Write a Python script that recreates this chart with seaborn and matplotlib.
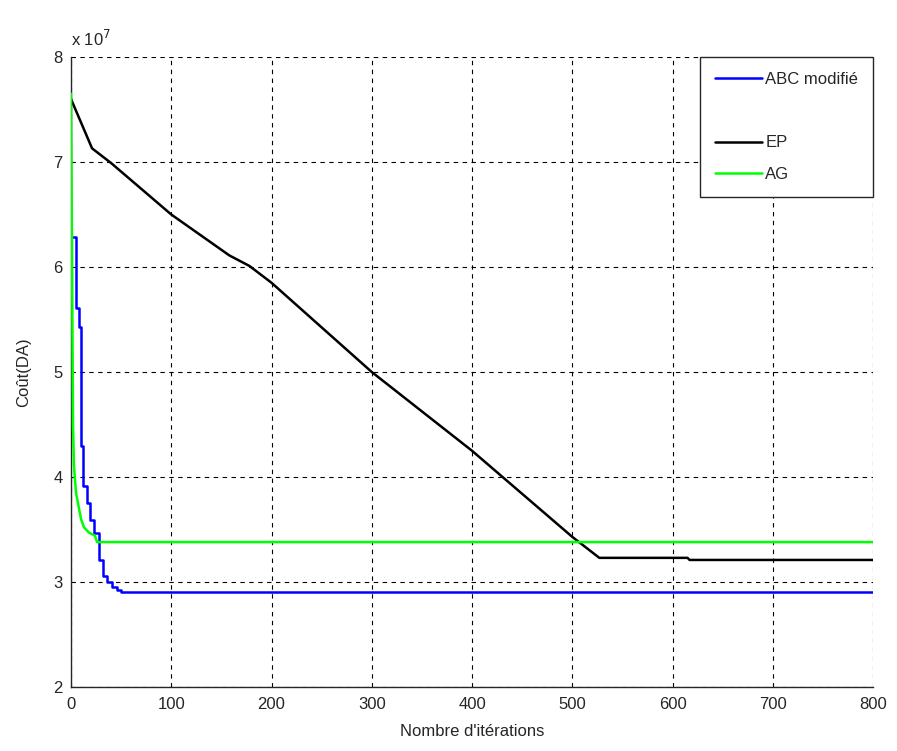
import numpy as np
import pandas as pd
import matplotlib
matplotlib.use("Agg")
import matplotlib.pyplot as plt
from matplotlib.lines import Line2D
from matplotlib import font_manager
import seaborn as sns

# ---- data (cost in units of 1e7 DA) ----
abc_iter = [2, 5, 8, 10, 12, 16, 19, 23, 28, 32, 36, 41, 46, 50, 800]
abc_cost = [6.29, 5.61, 5.43, 4.30, 3.91, 3.75, 3.59, 3.47, 3.21, 3.06, 3.00, 2.95, 2.92, 2.905, 2.905]

ep_iter = [0, 21, 40, 100, 158, 178, 200, 300, 400, 500, 527, 615, 617, 800]
ep_cost = [7.60, 7.13, 6.99, 6.50, 6.11, 6.01, 5.85, 5.00, 4.25, 3.43, 3.23, 3.23, 3.21, 3.21]

ag_iter = [0, 1, 2, 3, 5, 7, 10, 13, 18, 24, 26, 800]
ag_cost = [7.65, 6.20, 4.50, 4.10, 3.85, 3.75, 3.60, 3.52, 3.47, 3.44, 3.38, 3.38]

labels = ["ABC modifié", "EP", "AG"]
colors = ["#0000ff", "#000000", "#00ff00"]

xticks = [0, 100, 200, 300, 400, 500, 600, 700, 800]
yticks = [2, 3, 4, 5, 6, 7, 8]

sns.set_style("white")
plt.rcParams["font.family"] = ["Liberation Sans", "DejaVu Sans"]
fs = 12

fig = plt.figure(figsize=(8.97, 7.51), dpi=100)
ax = fig.add_axes([71/897, 1-687/751, (873-71)/897, (687-57)/751])

df_abc = pd.DataFrame({"it": abc_iter, "c": abc_cost})
df_ep = pd.DataFrame({"it": ep_iter, "c": ep_cost})
df_ag = pd.DataFrame({"it": ag_iter, "c": ag_cost})

sns.lineplot(data=df_ep, x="it", y="c", ax=ax, color=colors[1], lw=1.8,
             sort=False, estimator=None, label=labels[1], zorder=3)
sns.lineplot(data=df_abc, x="it", y="c", ax=ax, color=colors[0], lw=1.8,
             sort=False, estimator=None, drawstyle="steps-post", label=labels[0], zorder=4)
sns.lineplot(data=df_ag, x="it", y="c", ax=ax, color=colors[2], lw=1.8,
             sort=False, estimator=None, label=labels[2], zorder=5)

ax.set_xlim(0, 800)
ax.set_ylim(2, 8)
ax.set_xticks(xticks)
ax.set_yticks(yticks)
ax.set_xticklabels([str(t) for t in xticks], fontsize=fs)
ax.set_yticklabels([str(t) for t in yticks], fontsize=fs)
ax.tick_params(direction="in", length=5, width=0.8, colors="#262626", pad=7)
ax.tick_params(axis="y", pad=6)

ax.grid(True, color="black", linestyle=(0, (4, 4)), linewidth=0.8)
ax.set_axisbelow(True)
for s in ["top", "right"]:
    ax.spines[s].set_visible(False)
for s in ["left", "bottom"]:
    ax.spines[s].set_color("#262626")
    ax.spines[s].set_linewidth(1.0)

ax.set_xlabel("Nombre d'itérations", fontsize=fs, labelpad=9)
ax.set_ylabel("Coût(DA)", fontsize=fs, labelpad=16)
ax.text(0.0, 1.012, r"x 10$^{7}$", transform=ax.transAxes, fontsize=fs,
        ha="left", va="bottom")

ax.get_legend().remove()
handles = [Line2D([], [], color=colors[0], lw=1.8),
           Line2D([], [], color="none", lw=0),
           Line2D([], [], color=colors[1], lw=1.8),
           Line2D([], [], color=colors[2], lw=1.8)]
leg = ax.legend(handles, [labels[0], " ", labels[1], labels[2]],
                loc="upper right", bbox_to_anchor=(1.0, 1.0), borderaxespad=0,
                frameon=True, fancybox=False, fontsize=fs, handlelength=2.8,
                labelspacing=1.0, borderpad=0.9, handletextpad=0.2,
                borderaxespad_=None) if False else ax.legend(
                handles, [labels[0], " ", labels[1], labels[2]],
                loc="upper right", bbox_to_anchor=(1.0, 1.0), borderaxespad=0,
                frameon=True, fancybox=False, fontsize=fs, handlelength=2.8,
                labelspacing=1.0, borderpad=0.9, handletextpad=0.2)
leg.get_frame().set_edgecolor("#262626")
leg.get_frame().set_linewidth(1.0)
leg.get_frame().set_alpha(1)

fig.savefig("out.png", dpi=100)
